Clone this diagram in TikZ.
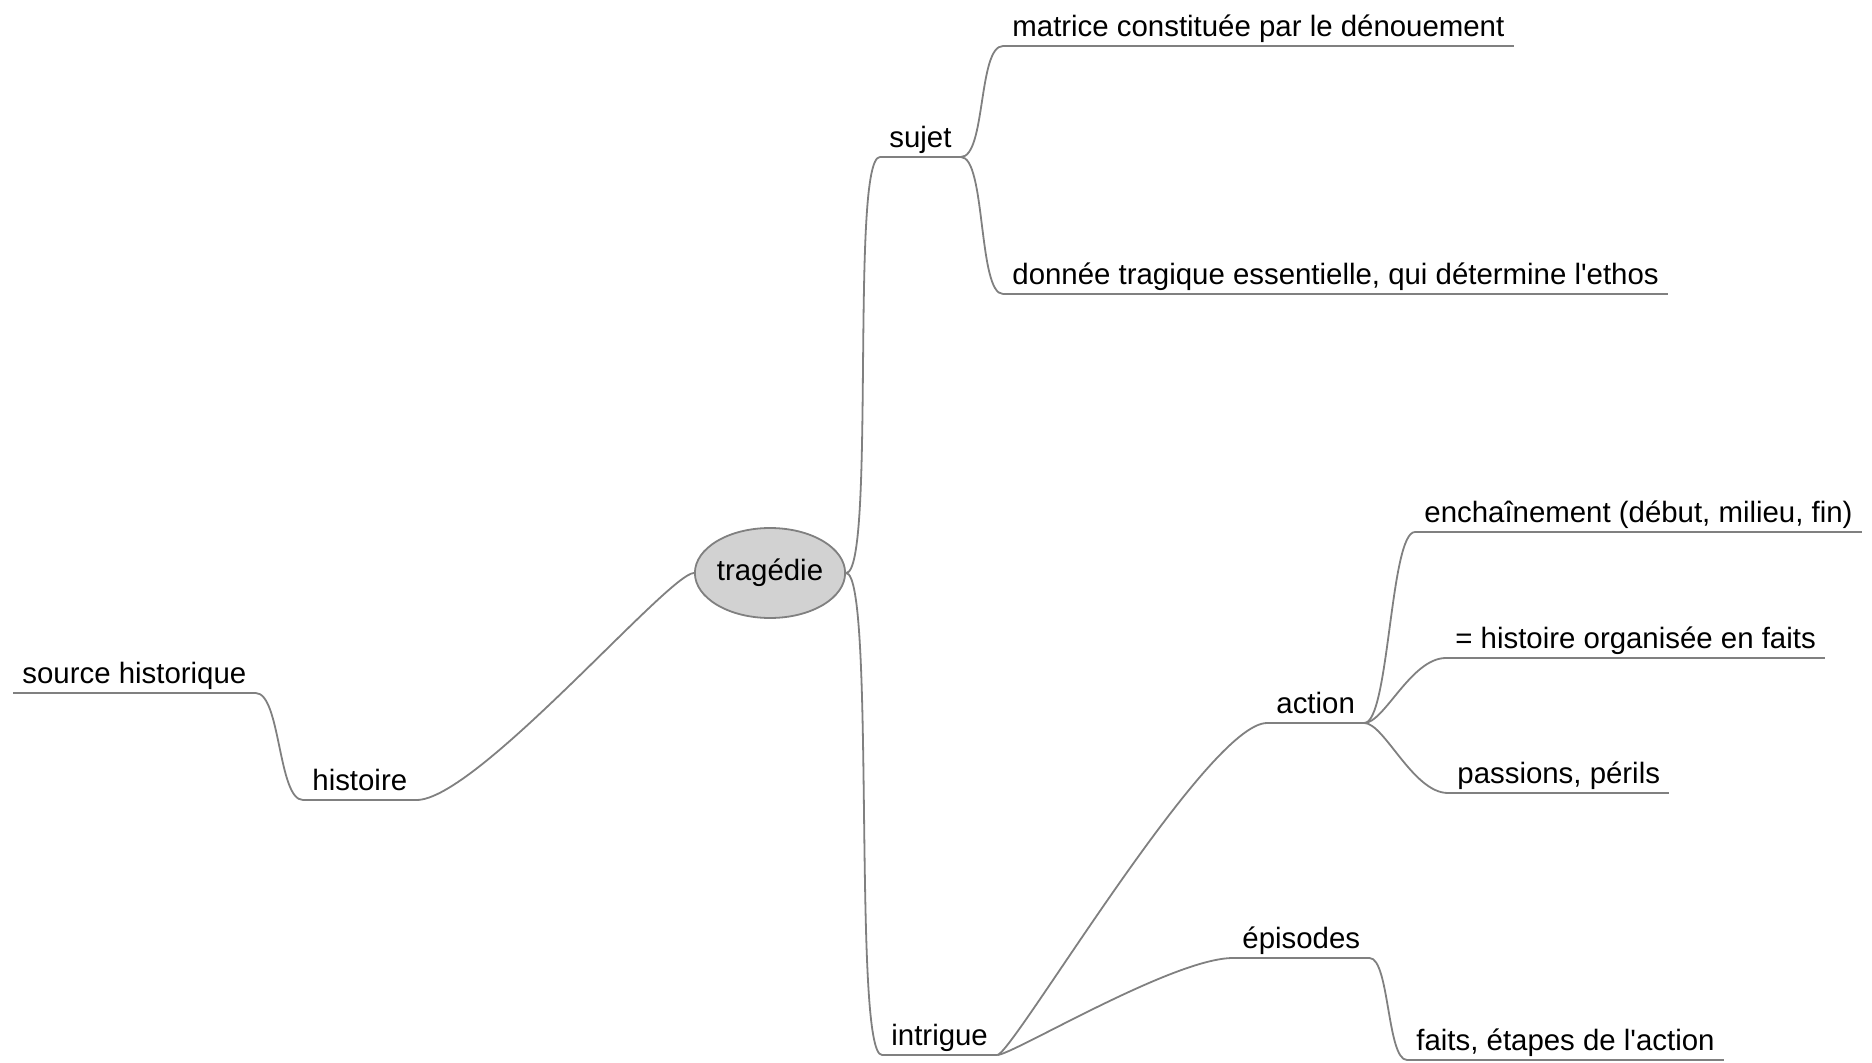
\documentclass[tikz,border=0pt]{standalone}
\usepackage{fontspec}
\setmainfont{Liberation Sans}
\usetikzlibrary{shapes.geometric}

\definecolor{linegray}{RGB}{128,128,128}
\definecolor{bubblegray}{RGB}{210,210,210}

\tikzset{
  topic/.style={anchor=south west,inner xsep=4.5pt,inner ysep=2.4pt,font=\fontsize{14.7}{17}\selectfont,text height=0.75em,text depth=0.21em},
  root/.style={ellipse,draw=linegray,fill=bubblegray,line width=0.9pt,minimum width=67.5pt,minimum height=45pt,inner sep=0pt,font=\fontsize{14.7}{17}\selectfont},
  branch/.style={draw=linegray,line width=0.9pt}
}

\begin{document}
\begin{tikzpicture}[x=0.5pt,y=0.5pt]
    \useasboundingbox (0,0) rectangle (1872,1062);

    \node[root] (tragedie) at (770,489) {tragédie};

    \node[topic] (sujet) at (880,905) {sujet};
    \node[topic] (matrice) at (1003,1016) {matrice constituée par le dénouement};
    \node[topic] (donnee) at (1003,768) {donnée tragique essentielle, qui détermine l\textquotesingle ethos};

    \node[topic] (intrigue) at (882,7) {intrigue};
    \node[topic] (action) at (1267,339) {action};
    \node[topic] (enchainement) at (1415,530) {enchaînement (début, milieu, fin)};
    \node[topic] (organisee) at (1446,404) {= histoire organisée en faits};
    \node[topic] (passions) at (1448,269) {passions, périls};
    \node[topic] (episodes) at (1233,104) {épisodes};
    \node[topic] (faits) at (1407,2) {faits, étapes de l\textquotesingle action};

    \node[topic] (histoire) at (303,262) {histoire};
    \node[topic] (source) at (13,369) {source historique};

    \foreach \n in {sujet,matrice,donnee,intrigue,action,enchainement,organisee,passions,episodes,faits,histoire,source}
        \draw[branch] (\n.south west) -- (\n.south east);

    \draw[branch] (tragedie.east) .. controls +(30,0) and +(-30,0) .. (sujet.south west);
    \draw[branch] (tragedie.east) .. controls +(30,0) and +(-30,0) .. (intrigue.south west);
    \draw[branch] (tragedie.west) .. controls +(-25,0) and +(60,0) .. (histoire.south east);

    \draw[branch] (sujet.south east) .. controls +(25,0) and +(-25,0) .. (matrice.south west);
    \draw[branch] (sujet.south east) .. controls +(25,0) and +(-25,0) .. (donnee.south west);

    \draw[branch] (intrigue.south east) .. controls +(15,0) and +(-60,0) .. (action.south west);
    \draw[branch] (intrigue.south east) .. controls +(15,0) and +(-60,0) .. (episodes.south west);

    \draw[branch] (action.south east) .. controls +(25,0) and +(-25,0) .. (enchainement.south west);
    \draw[branch] (action.south east) .. controls +(20,0) and +(-35,0) .. (organisee.south west);
    \draw[branch] (action.south east) .. controls +(20,0) and +(-35,0) .. (passions.south west);

    \draw[branch] (episodes.south east) .. controls +(20,0) and +(-20,0) .. (faits.south west);

    \draw[branch] (histoire.south west) .. controls +(-25,0) and +(25,0) .. (source.south east);
\end{tikzpicture}
\end{document}
